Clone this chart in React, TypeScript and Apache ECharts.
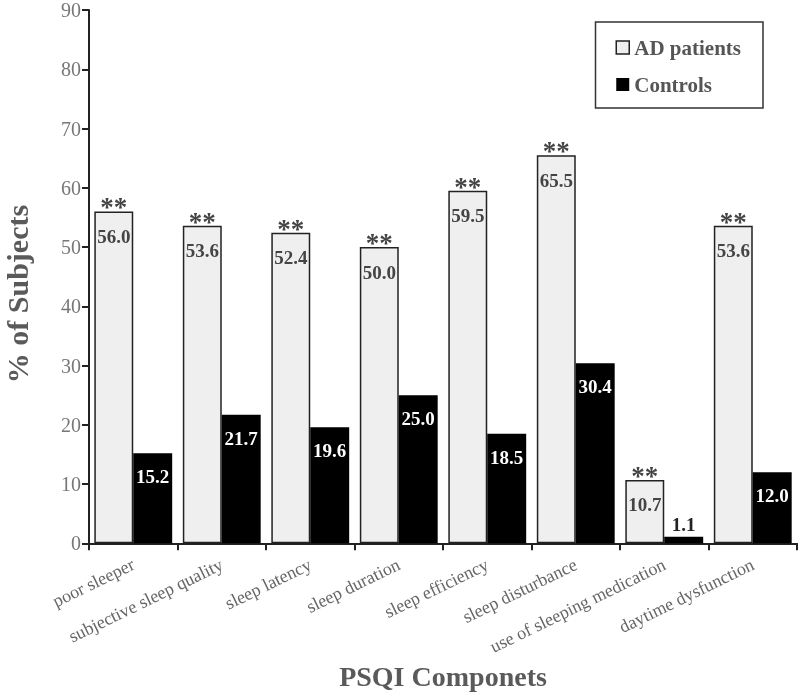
import React, { useEffect, useRef } from "react";
import * as echarts from "echarts";

const categories = [
  "poor sleeper",
  "subjective sleep quality",
  "sleep latency",
  "sleep duration",
  "sleep efficiency",
  "sleep disturbance",
  "use of sleeping medication",
  "daytime dysfunction",
];
const adPatients = [56.0, 53.6, 52.4, 50.0, 59.5, 65.5, 10.7, 53.6];
const controls = [15.2, 21.7, 19.6, 25.0, 18.5, 30.4, 1.1, 12.0];
const yTicks = { min: 0, max: 90, interval: 10 };

const SERIF = "'Liberation Serif', 'Times New Roman', serif";

export default function App() {
  const ref = useRef<HTMLDivElement>(null);
  useEffect(() => {
    if (!ref.current) return;
    const chart = echarts.init(ref.current, undefined, { renderer: "svg" });
    chart.setOption({
      animation: false,
      textStyle: { fontFamily: SERIF },
      grid: { left: 89, right: 3, top: 8, bottom: 146, containLabel: false },
      legend: {
        orient: "vertical",
        right: 37,
        top: 22,
        padding: [15, 22, 13, 20],
        itemGap: 16,
        itemWidth: 13,
        itemHeight: 13,
        icon: "rect",
        borderColor: "#333",
        borderWidth: 1.5,
        textStyle: { fontFamily: SERIF, fontSize: 21, fontWeight: "bold", color: "#555" },
        data: [
          { name: "AD patients", itemStyle: { color: "#efefef", borderColor: "#222", borderWidth: 1.5 } },
          { name: "Controls", itemStyle: { color: "#000" } },
        ],
      },
      graphic: [
        {
          type: "text",
          x: 17,
          y: 294,
          rotation: Math.PI / 2,
          style: {
            text: "% of Subjects",
            fontFamily: SERIF,
            fontSize: 30,
            fontWeight: "bold",
            fill: "#5a5a5a",
            align: "center",
            verticalAlign: "middle",
          },
        },
      ],
      xAxis: {
        type: "category",
        data: categories,
        name: "PSQI Componets",
        nameLocation: "middle",
        nameGap: 114,
        nameTextStyle: { fontFamily: SERIF, fontSize: 28, fontWeight: "bold", color: "#5a5a5a" },
        axisLine: { lineStyle: { color: "#222", width: 2 } },
        axisTick: { show: true, length: 7, lineStyle: { color: "#222", width: 2 } },
        axisLabel: {
          rotate: 26,
          margin: 20,
          fontFamily: SERIF,
          fontSize: 18,
          color: "#666",
          interval: 0,
        },
      },
      yAxis: {
        type: "value",
        min: yTicks.min,
        max: yTicks.max,
        interval: yTicks.interval,
        axisLine: { show: true, lineStyle: { color: "#222", width: 2 } },
        axisTick: { show: true, length: 7, lineStyle: { color: "#222", width: 2 } },
        axisLabel: { fontFamily: SERIF, fontSize: 20, color: "#777", margin: 8 },
        splitLine: { show: false },
      },
      series: [
        {
          name: "AD patients",
          type: "bar",
          data: adPatients,
          barGap: "0%",
          barCategoryGap: "12%",
          itemStyle: { color: "#efefef", borderColor: "#222", borderWidth: 1.5 },
          label: {
            show: true,
            position: "insideTop",
            distance: 0,
            offset: [0, -16],
            formatter: (p: any) => `{s|**}\n{v|${Number(p.value).toFixed(1)}}`,
            rich: {
              s: { fontFamily: SERIF, fontSize: 27, fontWeight: "bold", color: "#444", lineHeight: 24, align: "center" },
              v: { fontFamily: SERIF, fontSize: 19, fontWeight: "bold", color: "#444", lineHeight: 34, align: "center" },
            },
          },
        },
        {
          name: "Controls",
          type: "bar",
          data: controls.map((v) =>
            v < 5
              ? { value: v, label: { position: "top", distance: 3, color: "#222" } }
              : v
          ),
          barGap: "0%",
          barCategoryGap: "12%",
          itemStyle: { color: "#000" },
          label: {
            show: true,
            position: "insideTop",
            distance: 14,
            fontFamily: SERIF,
            fontSize: 19,
            fontWeight: "bold",
            color: "#fff",
            formatter: (p: any) => Number(p.value).toFixed(1),
          },
        },
      ],
    });
    return () => chart.dispose();
  }, []);
  return <div ref={ref} style={{ position: "fixed", left: 0, top: 0, width: 800, height: 695 }} />;
}
